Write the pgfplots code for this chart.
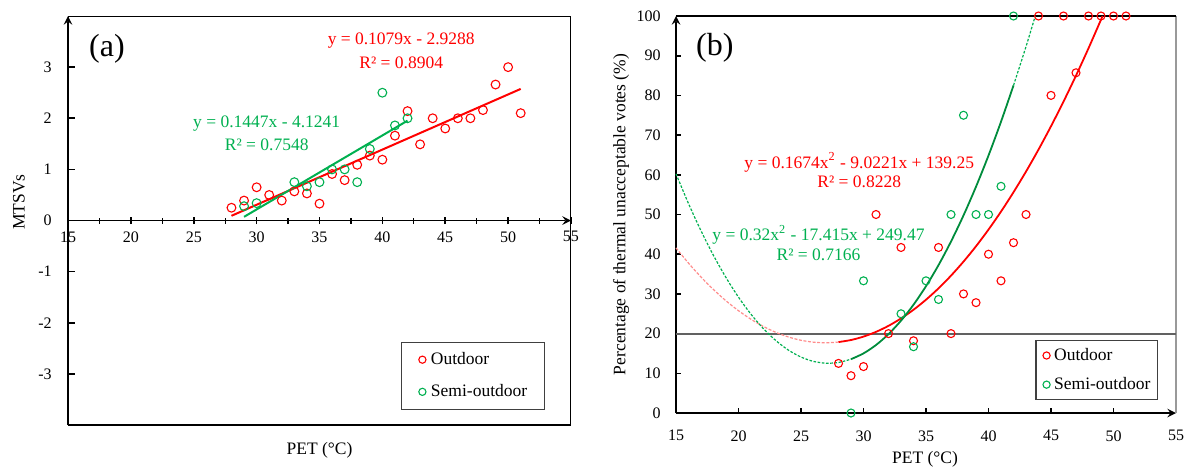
\documentclass[border=0pt]{standalone}
\usepackage{fontspec}
\setmainfont{Liberation Serif}
\usepackage{pgfplots}
\pgfplotsset{compat=1.18}

\definecolor{ored}{RGB}{255,0,0}
\definecolor{sgreen}{RGB}{0,176,80}
\definecolor{sgreendark}{RGB}{0,140,60}
\definecolor{lightred}{RGB}{255,140,140}

\newcommand\tickfont{\fontsize{8}{9.6}\selectfont}
\newcommand\labfont{\fontsize{8.75}{10}\selectfont}
\newcommand\eqfont{\fontsize{8.75}{10}\selectfont}
\newcommand\legfont{\fontsize{8.75}{10}\selectfont}
\newcommand\panelfont{\fontsize{16}{19}\selectfont}

\pgfplotsset{
  common/.style={
    scale only axis,
    xmin=15, xmax=55,
    font=\tickfont,
    /pgf/number format/assume math mode=true,
    axis line style={-, black, line width=0.9pt},
    tick style={black, line width=0.8pt},
    hide obscured x ticks=false, hide obscured y ticks=false,
    xtick={15,20,...,55},
    legend cell align=left,
    legend image code/.code={\draw[#1, mark size=1.8pt] plot coordinates {(0pt,0pt)};},
  },
  outpts/.style={only marks, mark=o, mark size=2.2pt, mark options={ored, line width=0.55pt}},
  semipts/.style={only marks, mark=o, mark size=2.2pt, mark options={sgreen, line width=0.55pt}},
}

\begin{document}
\begin{tikzpicture}
\path[use as bounding box] (0,0) rectangle (593.5pt,-234pt);

% ---------------- (a) MTSVs ----------------
\begin{axis}[common,
  at={(34pt,-212.5pt)}, anchor=south west,
  width=251.5pt, height=204.5pt,
  ymin=-4, ymax=4,
  axis x line=middle, axis y line=left,
  minor xtick={17.5,22.5,...,52.5},
  ytick={-3,...,3},
  xtick align=center, ytick align=inside,
  major tick length=3.6pt, minor tick length=3pt,
  minor tick style={line width=0.6pt},
  xticklabel style={inner sep=0pt, anchor=north, yshift=-3.5pt},
  yticklabel style={inner sep=0pt, anchor=east, xshift=-8pt},
  xlabel={PET (°C)}, ylabel={MTSVs},
  every axis x label/.style={at={(rel axis cs:0.5,0)}, yshift=-12.5pt, anchor=center, font=\labfont},
  every axis y label/.style={at={(rel axis cs:0,0.545)}, xshift=-24.5pt, rotate=90, anchor=center, font=\labfont},
  legend style={at={(0.948,0.0367)}, anchor=south east, draw=black!75, line width=0.6pt,
    font=\legfont, inner xsep=8.5pt, inner ysep=5pt, row sep=8.5pt,
    nodes={inner sep=0pt},
    /tikz/every odd column/.append style={column sep=2.5pt}},
]
\draw[black, line width=0.9pt] (rel axis cs:0,0) rectangle (rel axis cs:1,1);

% linear trend lines
\addplot[ored, line width=1pt, forget plot] coordinates {(28,0.0924) (51,2.5741)};
\addplot[sgreen, line width=1pt, forget plot] coordinates {(29,0.0722) (42,1.9533)};

\addplot[outpts] coordinates {
(28,0.25) (29,0.39) (30,0.65) (31,0.50) (32,0.39) (33,0.57) (34,0.53) (35,0.33)
(36,0.91) (37,0.79) (38,1.09) (39,1.27) (40,1.19) (41,1.66) (42,2.14) (43,1.49)
(44,2.00) (45,1.80) (46,2.00) (47,2.00) (48,2.16) (49,2.66) (50,3.00) (51,2.10)
};
\addlegendentry{Outdoor}
\addplot[semipts] coordinates {
(29,0.28) (30,0.34) (33,0.75) (34,0.67) (35,0.75) (36,1.00) (37,1.00) (38,0.75)
(39,1.40) (40,2.50) (41,1.86) (42,2.00)
};
\addlegendentry{Semi-outdoor}

\node[font=\panelfont] at (axis cs:18.1,3.35) {(a)};
\node[font=\eqfont, text=ored] at (axis cs:41.5,3.52) {y = 0.1079x - 2.9288};
\node[font=\eqfont, text=ored] at (axis cs:41.5,3.09) {R² = 0.8904};
\node[font=\eqfont, text=sgreen] at (axis cs:30.8,1.89) {y = 0.1447x - 4.1241};
\node[font=\eqfont, text=sgreen] at (axis cs:30.8,1.49) {R² = 0.7548};
\end{axis}

% ---------------- (b) unacceptable votes ----------------
\begin{axis}[common,
  at={(338pt,-206.5pt)}, anchor=south west,
  width=250pt, height=198.5pt,
  ymin=0, ymax=100,
  axis x line=bottom, axis y line=left,
  ytick={0,10,...,100},
  tick align=inside, major tick length=2.5pt,
  clip=false,
  xticklabel style={inner sep=0pt, anchor=north, yshift=-8.5pt},
  yticklabel style={inner sep=0pt, anchor=east, xshift=-7.5pt},
  xlabel={PET (°C)}, ylabel={Percentage of thermal unacceptable votes (\%)},
  every axis x label/.style={at={(rel axis cs:0.498,0)}, yshift=-23pt, anchor=center, font=\labfont},
  every axis y label/.style={at={(rel axis cs:0,0.5)}, xshift=-27.5pt, rotate=90, anchor=center, font=\labfont},
  legend style={at={(0.964,0.0327)}, anchor=south east, draw=black!75, line width=0.6pt,
    font=\legfont, inner xsep=3.5pt, inner ysep=3.6pt, row sep=7pt,
    nodes={inner sep=0pt},
    /tikz/every odd column/.append style={column sep=2pt}},
]
\draw[black!40, line width=0.6pt] (rel axis cs:1,0) -- (rel axis cs:1,1);
\draw[black, line width=0.9pt] (rel axis cs:0,1) -- (rel axis cs:1,1);

% 20 % threshold
\addplot[black!62, line width=1pt, forget plot] coordinates {(15,20) (55,20)};

% quadratic trend lines (outdoor)
\addplot[lightred, line width=0.6pt, dash pattern=on 1.5pt off 0.8pt, smooth, forget plot] coordinates {
(15,41.58) (16,37.75) (17,34.25) (18,31.09) (19,28.26) (20,25.77) (21,23.61) (22,21.79)
(23,20.30) (24,19.14) (25,18.32) (26,17.84) (27,17.69) (28,17.87)
};
\addplot[ored, line width=0.9pt, smooth, forget plot] coordinates {
(28,17.87) (29,18.39) (30,19.25) (31,20.44) (32,21.96) (33,23.82) (34,26.01) (35,28.54)
(36,31.40) (37,34.60) (38,38.14) (39,42.00) (40,46.21) (41,50.74) (42,55.62) (43,60.82)
(44,66.36) (45,72.24) (46,78.45) (47,85.00) (48,91.88) (49,99.09) (49.12,100)
};
% quadratic trend lines (semi-outdoor)
\addplot[sgreen, line width=0.6pt, dash pattern=on 1.3pt off 0.8pt, smooth, forget plot] coordinates {
(15,60.25) (16,52.75) (17,45.90) (18,39.68) (19,34.11) (20,29.17) (21,24.88) (22,21.22)
(23,18.21) (24,15.83) (25,14.10) (26,13.00) (27,12.55) (28,12.73) (29,13.56)
};
\addplot[sgreendark, line width=0.9pt, smooth, forget plot] coordinates {
(29,13.56) (30,15.02) (31,17.13) (32,19.87) (33,23.26) (34,27.28) (35,31.95) (36,37.25)
(37,43.20) (38,49.78) (39,57.01) (40,64.87) (41,73.38) (42,82.52)
};
\addplot[sgreen, line width=0.6pt, dash pattern=on 1.3pt off 0.8pt, smooth, forget plot] coordinates {
(42,82.52) (43,92.31) (43.74,100)
};

\addplot[outpts, mark size=2pt] coordinates {
(28,12.5) (29,9.4) (30,11.7) (31,50) (32,20) (33,41.7) (34,18.2) (36,41.7) (37,20)
(38,30) (39,27.8) (40,40) (41,33.3) (42,42.9) (43,50) (44,100) (45,80) (46,100)
(47,85.7) (48,100) (49,100) (50,100) (51,100)
};
\addlegendentry{Outdoor}
\addplot[semipts, mark size=2pt] coordinates {
(29,0) (30,33.3) (33,25) (34,16.7) (35,33.3) (36,28.6) (37,50) (38,75) (39,50)
(40,50) (41,57.1) (42,100)
};
\addlegendentry{Semi-outdoor}

\node[font=\panelfont] at (axis cs:18.1,91.9) {(b)};
\node[font=\eqfont, text=ored] at (axis cs:29.66,63.2) {y = 0.1674x\textsuperscript{2} - 9.0221x + 139.25};
\node[font=\eqfont, text=ored] at (axis cs:29.66,58.3) {R² = 0.8228};
\node[font=\eqfont, text=sgreen] at (axis cs:26.4,44.9) {y = 0.32x\textsuperscript{2} - 17.415x + 249.47};
\node[font=\eqfont, text=sgreen] at (axis cs:26.4,39.8) {R² = 0.7166};
\end{axis}
\end{tikzpicture}
\end{document}
